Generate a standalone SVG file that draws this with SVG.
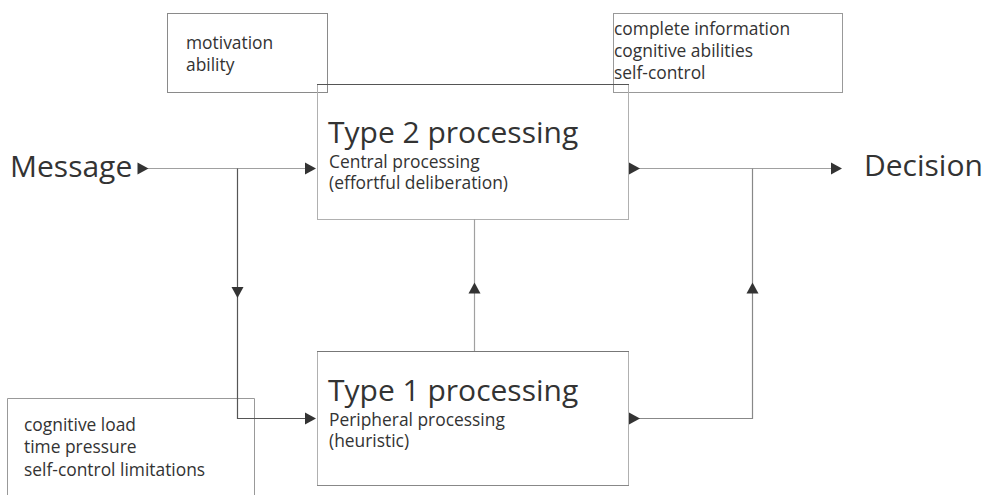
<svg xmlns="http://www.w3.org/2000/svg" width="989" height="495" viewBox="0 0 989 495">
  <style>
    .box { fill: none; stroke: #a6a6a6; stroke-width: 1; }
    .edge-dark { stroke: #555; stroke-width: 1; fill: none; }
    .ln { fill: none; stroke-width: 1.2; }
    .ln-light { stroke: #a0a0a0; }
    .ln-dark { stroke: #555; }
    .big { font-family: "Open Sans", "Noto Sans", sans-serif; font-size: 30px; fill: #333; }
    .small { font-family: "Open Sans", "Noto Sans", sans-serif; font-size: 17.4px; fill: #333; }
    .head { fill: #333; }
  </style>
  <defs>
    <!-- right-pointing triangle centred on its own origin -->
    <path id="tri" d="M-5.5,-6 L5.5,0 L-5.5,6 Z"/>
  </defs>

  <rect width="989" height="495" fill="#fff"/>

  <!-- condition boxes -->
  <g id="cond-motivation">
    <rect class="box" x="167.5" y="13.5" width="160" height="79" style="stroke:#8a8a8a"/>
    <text class="small" x="186" y="49">motivation</text>
    <text class="small" x="186" y="71">ability</text>
  </g>

  <g id="cond-complete">
    <rect class="box" x="613.5" y="13.5" width="229" height="79" style="stroke:#999"/>
    <text class="small" x="614" y="35">complete information</text>
    <text class="small" x="614" y="57">cognitive abilities</text>
    <text class="small" x="614" y="79">self-control</text>
  </g>

  <g id="cond-load">
    <path class="box" d="M7.5,495 V398.5 H254.5 V495" style="stroke:#999"/>
    <text class="small" x="24" y="431">cognitive load</text>
    <text class="small" x="24" y="453">time pressure</text>
    <text class="small" x="24" y="476">self-control limitations</text>
  </g>

  <!-- processing nodes -->
  <g id="type2">
    <rect class="box" x="317.5" y="84.5" width="311" height="135" style="stroke:#b0b0b0"/>
    <line class="edge-dark" x1="317" y1="84.5" x2="629" y2="84.5"/>
    <text class="big" x="328" y="143">Type 2 processing</text>
    <text class="small" x="329" y="168">Central processing</text>
    <text class="small" x="329" y="189">(effortful deliberation)</text>
  </g>

  <g id="type1">
    <rect class="box" x="317.5" y="351.5" width="311" height="134" style="stroke:#b0b0b0"/>
    <line class="edge-dark" x1="317" y1="351.5" x2="629" y2="351.5" style="stroke:#777"/>
    <line class="edge-dark" x1="317" y1="485.5" x2="629" y2="485.5" style="stroke:#888"/>
    <text class="big" x="328" y="401">Type 1 processing</text>
    <text class="small" x="329" y="426">Peripheral processing</text>
    <text class="small" x="329" y="447">(heuristic)</text>
  </g>

  <!-- endpoints -->
  <g id="message">
    <text class="big" x="10" y="177">Message</text>
  </g>
  <g id="decision">
    <text class="big" x="864" y="176">Decision</text>
  </g>

  <!-- connectors -->
  <g id="connectors">
    <line class="ln ln-light" x1="146" y1="168.5" x2="306" y2="168.5"/>
    <polyline class="ln ln-dark" points="237.5,168.5 237.5,418.5 306,418.5"/>
    <line class="ln ln-light" x1="474.5" y1="219" x2="474.5" y2="351"/>
    <line class="ln ln-light" x1="638" y1="168.5" x2="832" y2="168.5"/>
    <polyline class="ln ln-light" points="639,418.5 752.5,418.5 752.5,168.5" style="stroke:#888"/>

    <g class="head">
      <use href="#tri" transform="translate(143,168.5)"/>
      <use href="#tri" transform="translate(310.5,168.5)"/>
      <use href="#tri" transform="translate(634.5,168.5)"/>
      <use href="#tri" transform="translate(836.5,168.5)"/>
      <use href="#tri" transform="translate(310.5,418.5)"/>
      <use href="#tri" transform="translate(634.5,418.5)"/>
      <use href="#tri" transform="translate(237.5,292.5) rotate(90)"/>
      <use href="#tri" transform="translate(474.5,288) rotate(-90)"/>
      <use href="#tri" transform="translate(752.5,288) rotate(-90)"/>
    </g>
  </g>
</svg>
